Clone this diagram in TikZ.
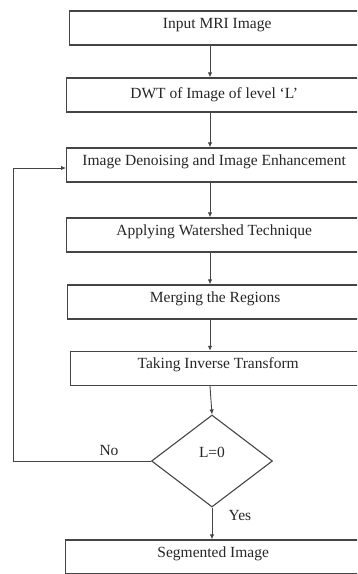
\documentclass[tikz,border=0pt]{standalone}
\usepackage{fontspec}
\setmainfont{Liberation Serif}
\usetikzlibrary{shapes.geometric,arrows.meta}
\definecolor{ink}{HTML}{262626}
\definecolor{edge}{HTML}{454545}
\begin{document}
\begin{tikzpicture}[x=1pt,y=-1pt,
  font=\fontsize{15.5}{17}\selectfont, text=ink,
  box/.style={draw=edge,line width=1.4pt,minimum width=295pt,minimum height=34pt,inner sep=0pt,anchor=west,
    text height=11pt,text depth=11pt},
  flow/.style={draw=edge,line width=0.9pt,-{Latex[length=5pt,width=4.5pt]}},
  lbl/.style={inner sep=0pt}]
\useasboundingbox (0,0) rectangle (357,574);
\clip (0,0) rectangle (357,574);
\node[box] (b1) at (69,28) {Input MRI Image};
\node[box,text depth=4pt] (b2) at (66,95) {DWT of Image of level `L'};
\node[box] (b3) at (66,165) {Image Denoising and Image Enhancement};
\node[box] (b4) at (66,235) {Applying Watershed Technique};
\node[box] (b5) at (67,302) {Merging the Regions};
\node[box] (b6) at (70,368.5) {Taking Inverse Transform};
\node[draw=edge,line width=1.1pt,shape=diamond,minimum width=121pt,minimum height=92pt,inner sep=0pt,
  label={[yshift=9pt,inner sep=0pt]center:L=0}] (d) at (212,461) {};
\node[box] (b7) at (65,557) {Segmented Image};
\node[lbl] (no) at (109,450) {No};
\node[lbl] (yes) at (240,515) {Yes};
\coordinate (ax) at (210,0);
\draw[flow] (b1.south -| ax) -- (b2.north -| ax);
\draw[flow] (b2.south -| ax) -- (b3.north -| ax);
\draw[flow] (b3.south -| ax) -- (b4.north -| ax);
\draw[flow] (b4.south -| ax) -- (b5.north -| ax);
\draw[flow] (b5.south -| ax) -- (b6.north -| ax);
\draw[flow] (b6.south -| ax) -- (d.north);
\draw[flow] (d.south) -- (b7.north -| d.south);
\coordinate (fb) at (13,168);
\draw[flow] (d.west) -| (fb) -- (fb -| b3.west);
\end{tikzpicture}
\end{document}
